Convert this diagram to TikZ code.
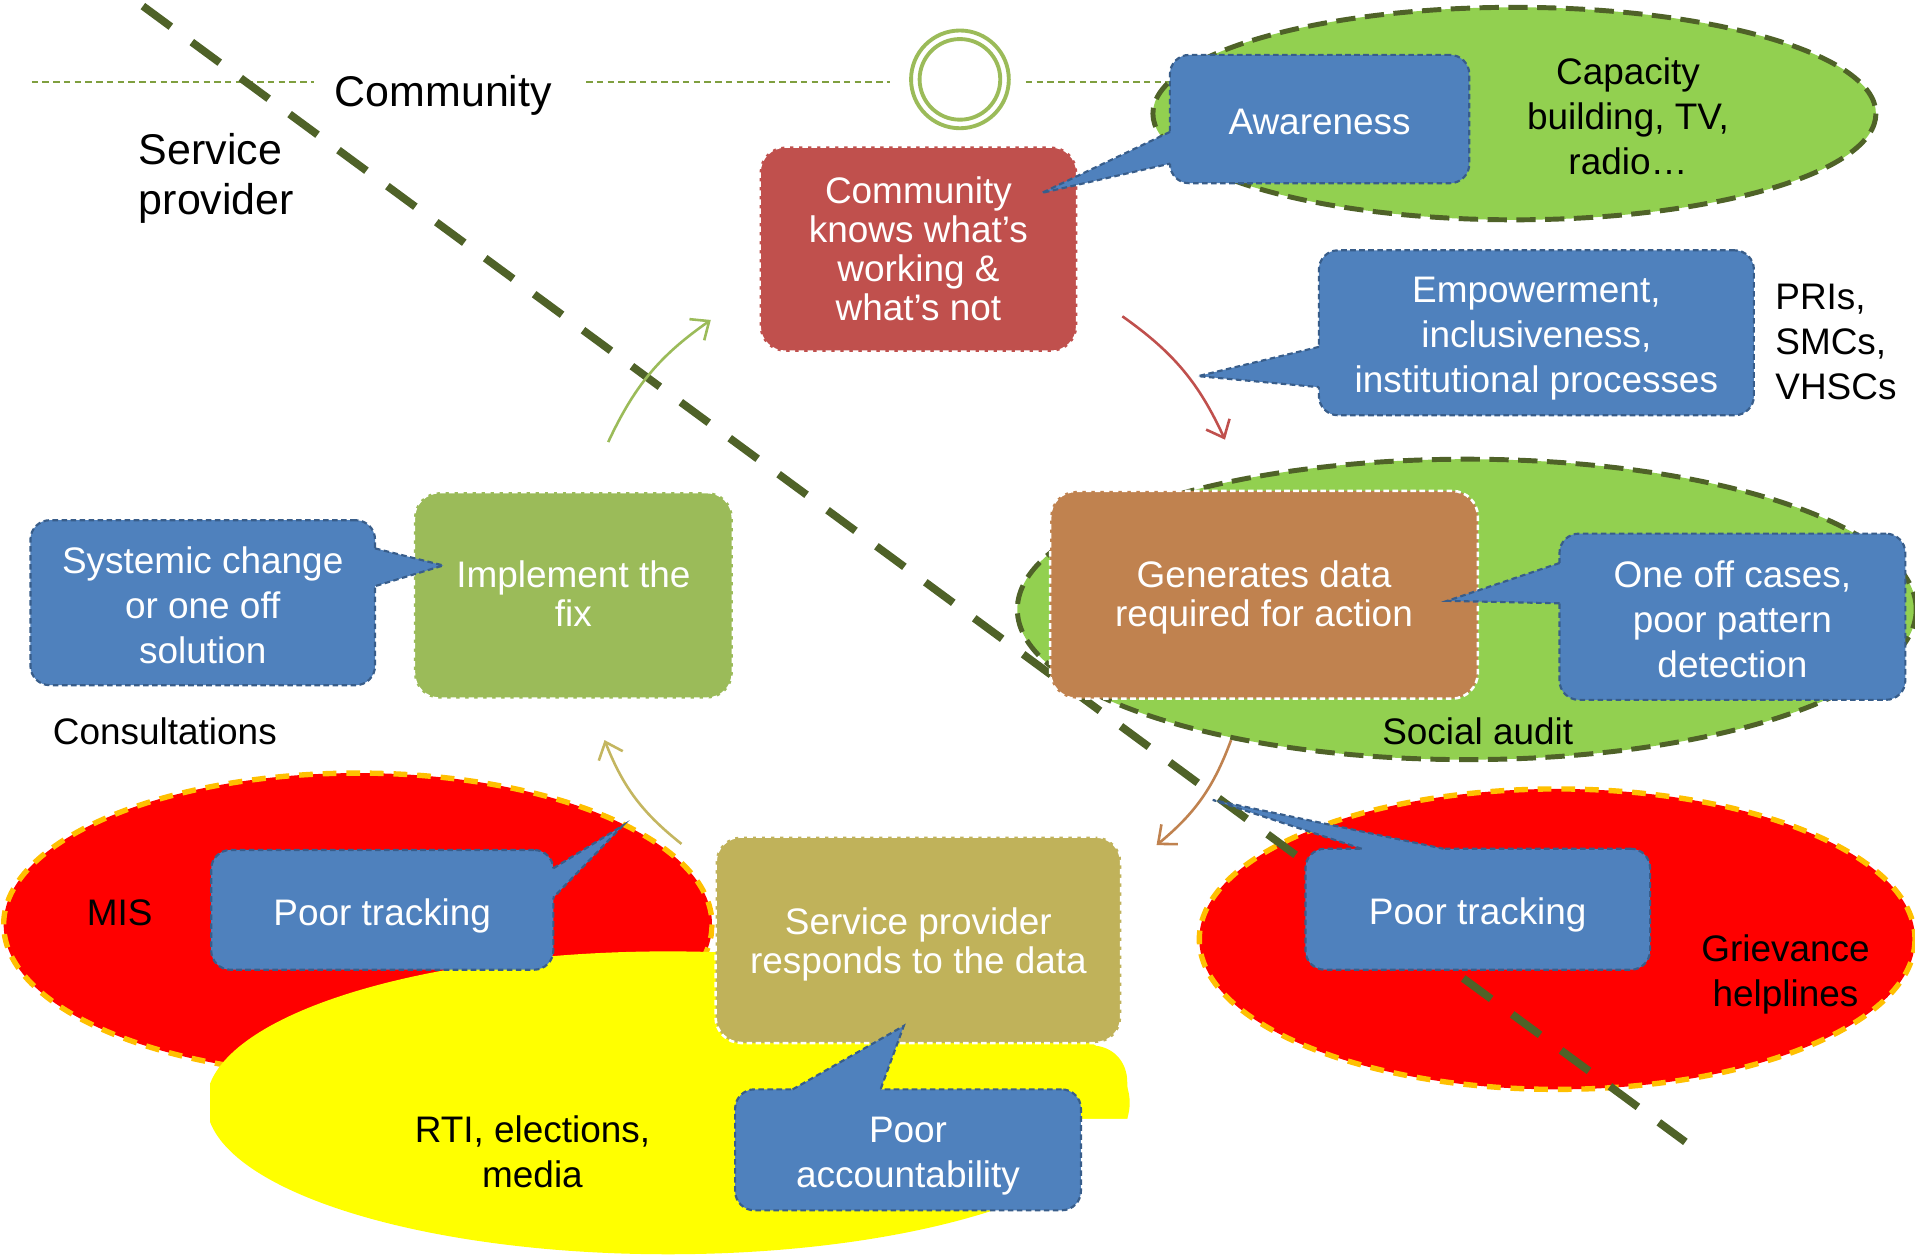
\documentclass[tikz,border=0pt]{standalone}
\usepackage{fontspec}
\setmainfont{Liberation Sans}
\usetikzlibrary{arrows.meta,calc}
\definecolor{cblue}{HTML}{4F81BD}
\definecolor{cbluedark}{HTML}{385D8A}
\definecolor{cred}{HTML}{C0504D}
\definecolor{cbrown}{HTML}{C0824F}
\definecolor{colive}{HTML}{C0B25A}
\definecolor{coarrow}{HTML}{C4B660}
\definecolor{cgbox}{HTML}{9BBB59}
\definecolor{cgell}{HTML}{92D050}
\definecolor{cdiag}{HTML}{4F6228}
\definecolor{corange}{HTML}{FFC000}
\definecolor{chline}{HTML}{7F9F3F}
\definecolor{cring}{HTML}{9BBB59}
\definecolor{cyell}{HTML}{FFFF00}
\definecolor{cbright}{HTML}{FF0000}
\newcommand\txtA{\fontsize{8.6pt}{10.5pt}\selectfont}
\newcommand\txtB{\fontsize{8.6pt}{9.1pt}\selectfont}
\newcommand\txtC{\fontsize{10pt}{11.7pt}\selectfont}
\newcommand\ctail[5]{%
  \fill[cblue] #4 -- #1 -- #3 -- #2 -- #5 -- cycle;
  \draw[tailedge] #1 -- #3 -- #2;}
\begin{document}
\begin{tikzpicture}[x=0.01cm,y=-0.01cm,
  bluebox/.style={draw=cbluedark, fill=cblue, line width=0.5pt, dash pattern=on 1.3pt off 0.8pt, rounded corners=4.5pt, inner sep=0pt},
  procbox/.style={draw=white, line width=0.6pt, dash pattern=on 1.3pt off 0.8pt, rounded corners=6pt, inner sep=0pt},
  wtxt/.style={text=white, align=center, font=\txtA, inner sep=0pt},
  ptxt/.style={text=white, align=center, font=\txtB, inner sep=0pt},
  tailedge/.style={draw=cbluedark, line width=0.5pt, dash pattern=on 1.3pt off 0.8pt},
  lbl/.style={text=black, align=center, font=\txtA, inner sep=0pt},
  biglbl/.style={text=black, font=\txtC, inner sep=0pt},
  greenell/.style={fill=cgell, draw=cdiag, line width=1.15pt, dash pattern=on 4.5pt off 2.2pt},
  redell/.style={fill=cbright, draw=corange, line width=1.25pt, dash pattern=on 3.2pt off 2.3pt},
  flow/.style={line width=0.6pt, -{Straight Barb[length=3.5pt,width=6pt]}},
  diagline/.style={draw=cdiag, line width=1.8pt, dash pattern=on 8.08pt off 6.06pt},
  hline/.style={draw=chline, line width=0.5pt, dash pattern=on 1.5pt off 1pt},
  ring/.style={circle, draw=cring, line width=0.9pt, inner sep=0pt},
]
\useasboundingbox (0,0) rectangle (1568,1028);
\fill[white] (0,0) rectangle (1568,1028);

% horizontal community / provider line
\coordinate (h1) at (26,67);  \coordinate (h2) at (257,67);
\coordinate (h3) at (480,67); \coordinate (h4) at (729,67);
\coordinate (h5) at (840,67); \coordinate (h6) at (960,67);
\draw[hline] (h1) -- (h2);
\draw[hline] (h3) -- (h4);
\draw[hline] (h5) -- (h6);

% double ring
\node[ring, minimum size=0.80cm] (ringO) at (786,65) {};
\node[ring, minimum size=0.66cm] (ringI) at (786,65) {};

% ellipses
\path[greenell] (1240,93) ellipse [x radius=296, y radius=87];
\path[greenell] (1201,499) ellipse [x radius=368, y radius=123];
\path[redell] (293,757) ellipse [x radius=290, y radius=124];
\begin{scope}
  \clip (172,700) -- (1000,700) -- (1000,916) -- (885,916) -- (885,1028) -- (172,1028) -- cycle;
  \fill[cyell] (547,903) ellipse [x radius=378, y radius=124];
\end{scope}
\fill[cyell] (860,850) -- (893,856) .. controls (912,856) and (923,870) .. (923,886) -- (923,916) -- (860,916) -- cycle;
\path[redell] (1275,769) ellipse [x radius=293, y radius=123];

% service provider / community divide
\coordinate (d1) at (117,5);
\coordinate (d2) at (1380,935);
\draw[diagline] (d1) -- (d2);

% process boxes
\node[procbox, fill=cred, minimum width=2.60cm, minimum height=1.68cm] (ck) at (752,204) {};
\node[ptxt] (ckT) at (752,204) {Community\\knows what’s\\working \&\\what’s not};
\node[procbox, fill=cbrown, minimum width=3.50cm, minimum height=1.70cm] (gd) at (1035,487) {};
\node[ptxt] (gdT) at (1035,489) {Generates data\\required for action};
\node[procbox, fill=cgbox, minimum width=2.61cm, minimum height=1.69cm] (im) at (469.5,487.5) {};
\node[ptxt] (imT) at (469.5,486) {Implement the\\fix};
\node[procbox, fill=colive, minimum width=3.32cm, minimum height=1.69cm] (sp) at (752,769.5) {};
\node[ptxt] (spT) at (752,773.5) {Service provider\\responds to the data};

% callouts
\node[bluebox, minimum width=2.45cm, minimum height=1.05cm] (aw) at (1080.5,97.5) {};
\ctail{(958,108)}{(958,134)}{(853,158)}{(964,108)}{(964,134)}
\node[wtxt] (awT) at (1080.5,99.5) {Awareness};
\node[bluebox, minimum width=3.56cm, minimum height=1.35cm] (em) at (1258,272.5) {};
\ctail{(1080,284)}{(1080,317)}{(981,308)}{(1086,284)}{(1086,317)}
\node[wtxt] (emT) at (1258,277.5) {Empowerment,\\inclusiveness,\\institutional processes};
\node[bluebox, minimum width=2.83cm, minimum height=1.36cm] (oo) at (1418.5,505) {};
\ctail{(1277,461)}{(1277,494)}{(1185,492)}{(1283,461)}{(1283,494)}
\node[wtxt] (ooT) at (1418.5,507) {One off cases,\\poor pattern\\detection};
\node[bluebox, minimum width=2.82cm, minimum height=1.35cm] (sy) at (166,493.5) {};
\ctail{(307,449)}{(307,480)}{(363,463)}{(301,449)}{(301,480)}
\node[wtxt] (syT) at (166,495.5) {Systemic change\\or one off\\solution};
\node[bluebox, minimum width=2.80cm, minimum height=0.98cm] (pt1) at (313,745) {};
\ctail{(453,711)}{(453,735)}{(510,676)}{(447,711)}{(447,735)}
\node[wtxt] (pt1T) at (313,750) {Poor tracking};
\node[bluebox, minimum width=2.83cm, minimum height=0.99cm] (pa) at (743.5,941.5) {};
\ctail{(649,892)}{(721,892)}{(740,840)}{(649,898)}{(721,898)}
\node[wtxt] (paT) at (743.5,946.5) {Poor\\accountability};
\node[bluebox, minimum width=2.82cm, minimum height=0.99cm] (pt2) at (1210,744.5) {};
\ctail{(1115,695)}{(1182,695)}{(993,655)}{(1115,701)}{(1182,701)}
\node[wtxt] (pt2T) at (1210,749.5) {Poor tracking};

% labels
\node[biglbl] (comm) at (363,78) {Community};
\node[biglbl, align=left, anchor=west] (spl) at (113,146) {Service\\provider};
\node[lbl] (cap) at (1333,95) {Capacity\\building, TV,\\radio…};
\node[lbl, align=left, anchor=west] (pri) at (1453,280) {PRIs,\\SMCs,\\VHSCs};
\node[lbl] (sa) at (1210,599) {Social audit};
\node[lbl] (cons) at (135,599) {Consultations};
\node[lbl] (mis) at (98,747) {MIS};
\node[lbl] (rti) at (436,943) {RTI, elections,\\media};
\node[lbl] (grv) at (1462,798) {Grievance\\helplines};

% cycle arrows
\coordinate (g1) at (498,362);  \coordinate (g2) at (582,262);
\coordinate (r1) at (919,259);  \coordinate (r2) at (1003,360);
\coordinate (b1) at (1008,606); \coordinate (b2) at (947,692);
\coordinate (o1) at (558,691);  \coordinate (o2) at (495,606);
\draw[flow, draw=cgbox] (g1) to[bend left=15] (g2);
\draw[flow, draw=cred] (r1) to[bend left=15] (r2);
\draw[flow, draw=cbrown] (b1) to[bend left=15] (b2);
\draw[flow, draw=coarrow] (o1) to[bend left=15] (o2);
\end{tikzpicture}
\end{document}
